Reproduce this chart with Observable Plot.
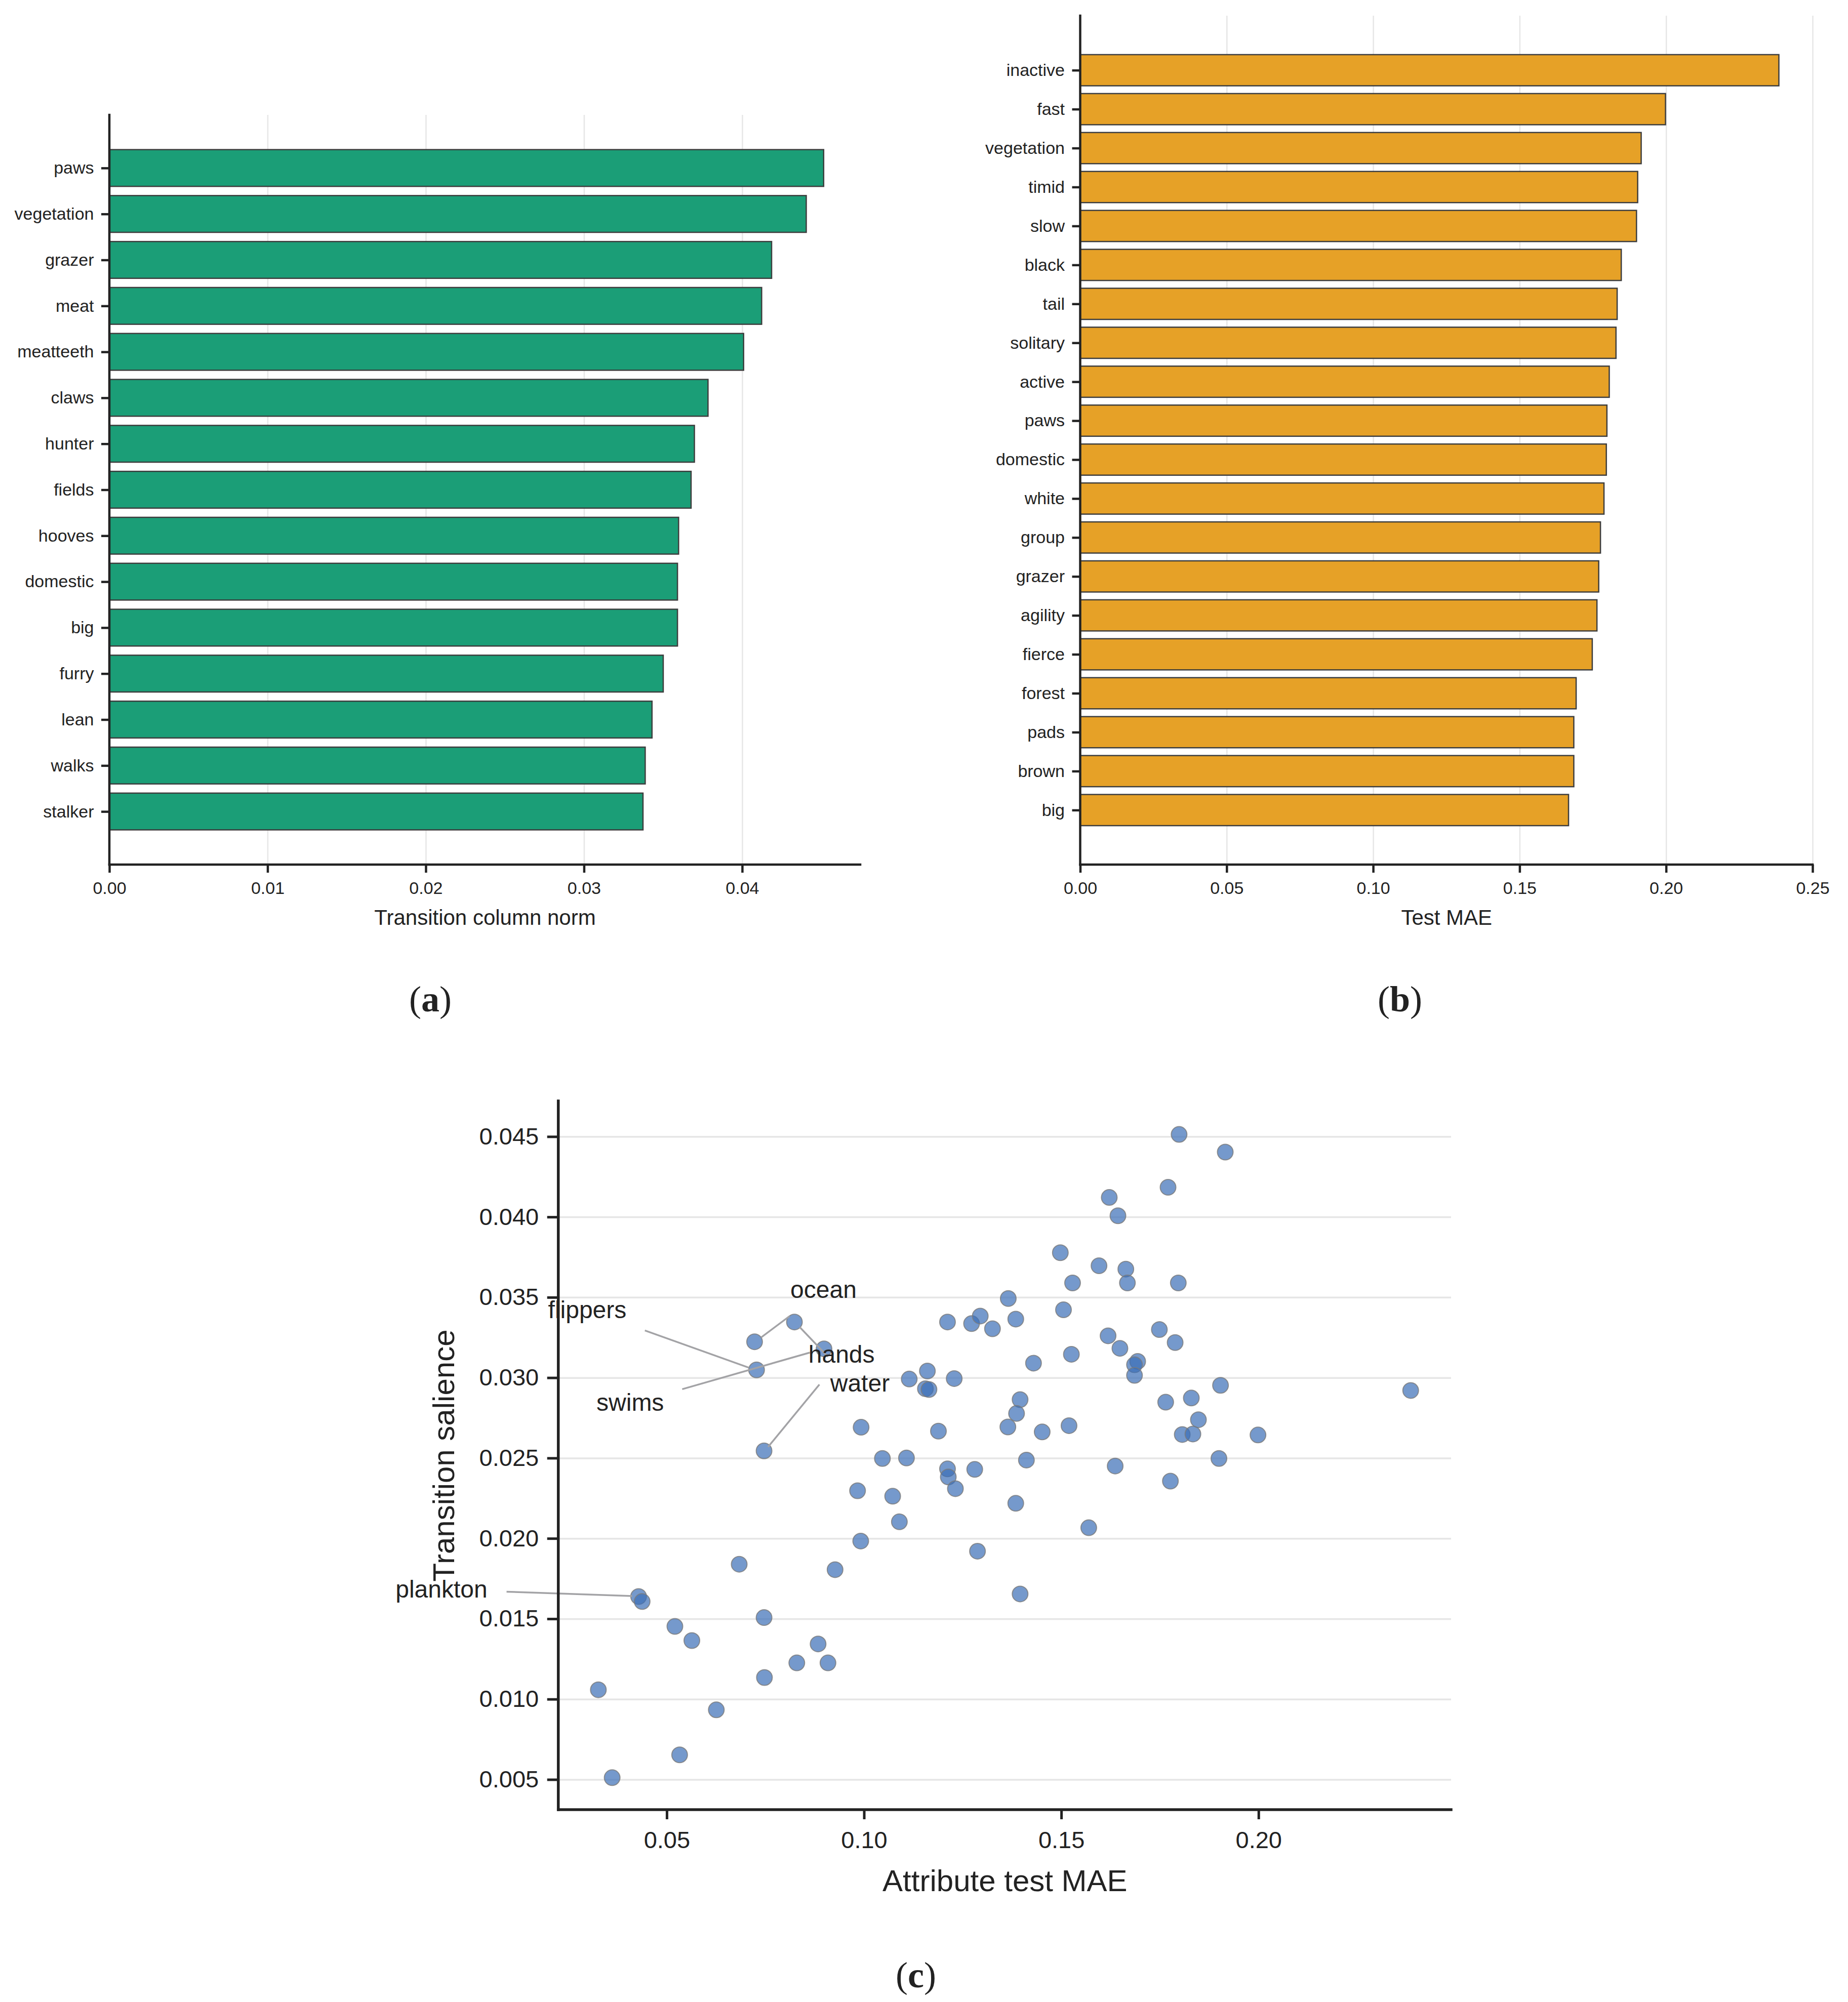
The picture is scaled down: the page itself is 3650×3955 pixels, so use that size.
<!DOCTYPE html>
<html>
<head>
<meta charset="utf-8">
<script src="https://cdn.jsdelivr.net/npm/d3@7"></script>
<script src="https://cdn.jsdelivr.net/npm/@observablehq/plot@0.6"></script>
<style>
  html, body { margin: 0; padding: 0; background: #fff; }
  #fig { position: relative; width: 3650px; height: 3955px; background: #fff; overflow: hidden; }
  .panel { position: absolute; }
  .panel svg { overflow: visible; }
  .cap {
    position: absolute; transform: translate(-50%, -50%); white-space: nowrap;
    font-family: "Liberation Serif", "DejaVu Serif", serif; font-size: 72px; color: #222;
  }
  .cap b { font-weight: bold; }
</style>
</head>
<body>
<div id="fig"></div>
<script>
// (a) attributes ranked by transition column norm
const normAttributes = ["paws", "vegetation", "grazer", "meat", "meatteeth", "claws", "hunter", "fields",
  "hooves", "domestic", "big", "furry", "lean", "walks", "stalker"];
const normValues = [0.04515, 0.04405, 0.04186, 0.04123, 0.04009, 0.03784, 0.03698, 0.03677,
  0.03598, 0.03591, 0.03591, 0.03501, 0.0343, 0.03387, 0.03373];
const normTicks = [0, 0.01, 0.02, 0.03, 0.04];

// (b) attributes ranked by test MAE
const maeAttributes = ["inactive", "fast", "vegetation", "timid", "slow", "black", "tail", "solitary", "active",
  "paws", "domestic", "white", "group", "grazer", "agility", "fierce", "forest", "pads", "brown", "big"];
const maeValues = [0.2385, 0.1998, 0.1915, 0.1903, 0.1899, 0.1847, 0.1833, 0.1829, 0.1806,
  0.1798, 0.1796, 0.1788, 0.1776, 0.177, 0.1764, 0.1748, 0.1693, 0.1685, 0.1685, 0.1667];
const maeTicks = [0, 0.05, 0.1, 0.15, 0.2, 0.25];

// (c) every attribute: test MAE against transition salience
const attributeMae = [
  0.0722, 0.0823, 0.0898, 0.0727, 0.0746, 0.0992, 0.1046, 0.1107, 0.0983, 0.1072,
  0.1089, 0.0991, 0.0926, 0.0683, 0.0428, 0.0437, 0.0520, 0.0563, 0.0746, 0.0883,
  0.0829, 0.0908, 0.0747, 0.0326, 0.0625, 0.0532, 0.0361, 0.1114, 0.1160, 0.1155,
  0.1164, 0.1228, 0.1188, 0.1211, 0.1272, 0.1294, 0.1325, 0.1365, 0.1384, 0.1429,
  0.1395, 0.1386, 0.1364, 0.1451, 0.1411, 0.1211, 0.1213, 0.1231, 0.1280, 0.1384,
  0.1287, 0.1395, 0.1497, 0.1505, 0.1528, 0.1525, 0.1519, 0.1569, 0.1798, 0.1915,
  0.1770, 0.1621, 0.1643, 0.1595, 0.1663, 0.1667, 0.1796, 0.1748, 0.1788, 0.1618,
  0.1648, 0.1693, 0.1685, 0.1685, 0.1903, 0.2385, 0.1764, 0.1829, 0.1847, 0.1806,
  0.1833, 0.1998, 0.1899, 0.1776, 0.1636
];
const transitionSalience = [
  0.03225, 0.03348, 0.03181, 0.0305, 0.02546, 0.02693, 0.02499, 0.02502, 0.02298, 0.02264,
  0.02105, 0.01985, 0.01807, 0.01841, 0.0164, 0.01609, 0.01454, 0.01366, 0.01509, 0.01345,
  0.01227, 0.01227, 0.01136, 0.0106, 0.00935, 0.00655, 0.00513, 0.02993, 0.03043, 0.02933,
  0.02928, 0.02996, 0.02669, 0.03348, 0.03338, 0.03385, 0.03306, 0.03494, 0.03366, 0.03092,
  0.02865, 0.02779, 0.02695, 0.02664, 0.02489, 0.02434, 0.02384, 0.02311, 0.02431, 0.0222,
  0.01922, 0.01656, 0.03779, 0.03424, 0.03591, 0.03147, 0.02703, 0.02068, 0.04515, 0.04405,
  0.04186, 0.04123, 0.04009, 0.03698, 0.03677, 0.03591, 0.03591, 0.03301, 0.0322, 0.03262,
  0.03184, 0.03103, 0.03082, 0.03016, 0.02954, 0.02922, 0.02849, 0.02875, 0.0274, 0.02648,
  0.02651, 0.02645, 0.02499, 0.02358, 0.02452
];
const maeAxisTicks = [0.05, 0.1, 0.15, 0.2];
const salienceTicks = [0.005, 0.01, 0.015, 0.02, 0.025, 0.03, 0.035, 0.04, 0.045];

// callout words and their leader lines (data units)
const calloutWords = ["ocean", "flippers", "hands", "swims", "water", "plankton"];
const calloutMae = [0.08966, 0.02979, 0.09424, 0.04067, 0.0989, -0.00717];
const calloutSalience = [0.03547, 0.03421, 0.03143, 0.02843, 0.02963, 0.01683];
const leaderMae1 = [0.0739, 0.08364, 0.04439, 0.05385, 0.08863, 0.00933];
const leaderSal1 = [0.03253, 0.03316, 0.03295, 0.0293, 0.02959, 0.0167];
const leaderMae2 = [0.08106, 0.0908, 0.07075, 0.08622, 0.07562, 0.04118];
const leaderSal2 = [0.03384, 0.03132, 0.03064, 0.03158, 0.02571, 0.01643];

const FONT = "'Liberation Sans', Arial, Helvetica, sans-serif";
const INK = "#222222";
const GRID = "#e6e6e6";
const GREEN = "#1b9e77";
const ORANGE = "#e6a127";
const EDGE = "#3d3d3d";
const DOT = "#3a6db6";
const LEADER = "#a3a3a6";
const f2 = d3.format(".2f");
const f3 = d3.format(".3f");

// left and bottom spines drawn along the frame
function spines(width) {
  return (index, scales, values, dims) => {
    const l = dims.marginLeft, t = dims.marginTop;
    const r = dims.width - dims.marginRight, b = dims.height - dims.marginBottom;
    const g = d3.create("svg:g").attr("stroke", INK).attr("stroke-width", width).attr("stroke-linecap", "square");
    g.append("line").attr("x1", l).attr("x2", l).attr("y1", t).attr("y2", b);
    g.append("line").attr("x1", l).attr("x2", r).attr("y1", b).attr("y2", b);
    return g.node();
  };
}

function place(node, left, top) {
  const div = document.createElement("div");
  div.className = "panel";
  div.style.left = left + "px";
  div.style.top = top + "px";
  div.appendChild(node);
  document.getElementById("fig").appendChild(div);
}

function caption(letter, cx, cy) {
  const div = document.createElement("div");
  div.className = "cap";
  div.style.left = cx + "px";
  div.style.top = cy + "px";
  div.innerHTML = "(<b>" + letter + "</b>)";
  document.getElementById("fig").appendChild(div);
}

// horizontal bar panel
function barPanel({names, values, ticks, domain, color, label, paddingOuter, width, marginLeft, marginRight, marginTop}) {
  const rows = names.map((name, i) => ({name, value: values[i]}));
  return Plot.plot({
    width, height: 1890,
    marginLeft, marginRight, marginTop, marginBottom: 182,
    style: {fontFamily: FONT, fontSize: "34px", color: INK, background: "transparent", overflow: "visible"},
    x: {domain, ticks, tickFormat: f2},
    y: {domain: names, paddingInner: 0.2, paddingOuter, round: false},
    marks: [
      Plot.gridX(ticks.filter(t => t > 0), {stroke: GRID, strokeOpacity: 1, strokeWidth: 2.5}),
      Plot.barX(rows, {x: "value", y: "name", fill: color, stroke: EDGE, strokeWidth: 2.5}),
      Plot.axisX(ticks, {tickFormat: f2, tickSize: 16, tickPadding: 17, strokeWidth: 4.5, fontSize: 34, label: null}),
      Plot.axisY({tickSize: 16, tickPadding: 15, strokeWidth: 4.5, fontSize: 34, label: null}),
      spines(4.5),
      Plot.text([label], {text: d => d, frameAnchor: "bottom", dy: 105, lineAnchor: "middle",
        textAnchor: "middle", fontSize: 42, fill: INK})
    ]
  });
}

place(barPanel({
  names: normAttributes, values: normValues, ticks: normTicks, domain: [0, 0.04746],
  color: GREEN, label: "Transition column norm", paddingOuter: 0.755,
  width: 1750, marginLeft: 216, marginRight: 51, marginTop: 227
}), 0, 0);

place(barPanel({
  names: maeAttributes, values: maeValues, ticks: maeTicks, domain: [0, 0.25],
  color: ORANGE, label: "Test MAE", paddingOuter: 1.0,
  width: 1820, marginLeft: 303.5, marginRight: 70, marginTop: 31
}), 1830, 0);

// scatter panel
const points = attributeMae.map((m, i) => ({mae: m, salience: transitionSalience[i]}));
const callouts = calloutWords.map((w, i) => ({word: w, mae: calloutMae[i], salience: calloutSalience[i]}));
const leaders = calloutWords.map((w, i) => ({
  x1: leaderMae1[i], y1: leaderSal1[i], x2: leaderMae2[i], y2: leaderSal2[i]
}));

const scatter = Plot.plot({
  width: 2366, height: 1695,
  marginLeft: 502.7, marginRight: 100, marginTop: 75, marginBottom: 220,
  style: {fontFamily: FONT, fontSize: "47px", color: INK, background: "transparent", overflow: "visible"},
  x: {domain: [0.02251, 0.2488]},
  y: {domain: [0.003125, 0.047215]},
  marks: [
    Plot.gridY(salienceTicks, {stroke: GRID, strokeOpacity: 1, strokeWidth: 3.5}),
    Plot.dot(points, {x: "mae", y: "salience", r: 15.5, fill: DOT, fillOpacity: 0.7,
      stroke: "#7a7a7a", strokeOpacity: 0.8, strokeWidth: 2}),
    Plot.link(leaders, {x1: "x1", y1: "y1", x2: "x2", y2: "y2", stroke: LEADER, strokeWidth: 3.5}),
    Plot.text(callouts, {x: "mae", y: "salience", text: "word", fontSize: 48, fill: INK}),
    Plot.axisX(maeAxisTicks, {tickFormat: f2, tickSize: 19, tickPadding: 23, strokeWidth: 5, fontSize: 47, label: null}),
    Plot.axisY(salienceTicks, {tickFormat: f3, tickSize: 22, tickPadding: 17, strokeWidth: 5, fontSize: 47, label: null}),
    spines(5.5),
    Plot.text(["Attribute test MAE"], {text: d => d, frameAnchor: "bottom", dy: 141.5, lineAnchor: "middle",
      textAnchor: "middle", fontSize: 60, fill: INK}),
    Plot.text(["Transition salience"], {text: d => d, frameAnchor: "left", dx: -225, rotate: -90,
      lineAnchor: "middle", textAnchor: "middle", fontSize: 60, fill: INK})
  ]
});
place(scatter, 600, 2100);

caption("a", 850, 1974);
caption("b", 2765, 1974);
caption("c", 1809, 3902);
</script>
</body>
</html>
